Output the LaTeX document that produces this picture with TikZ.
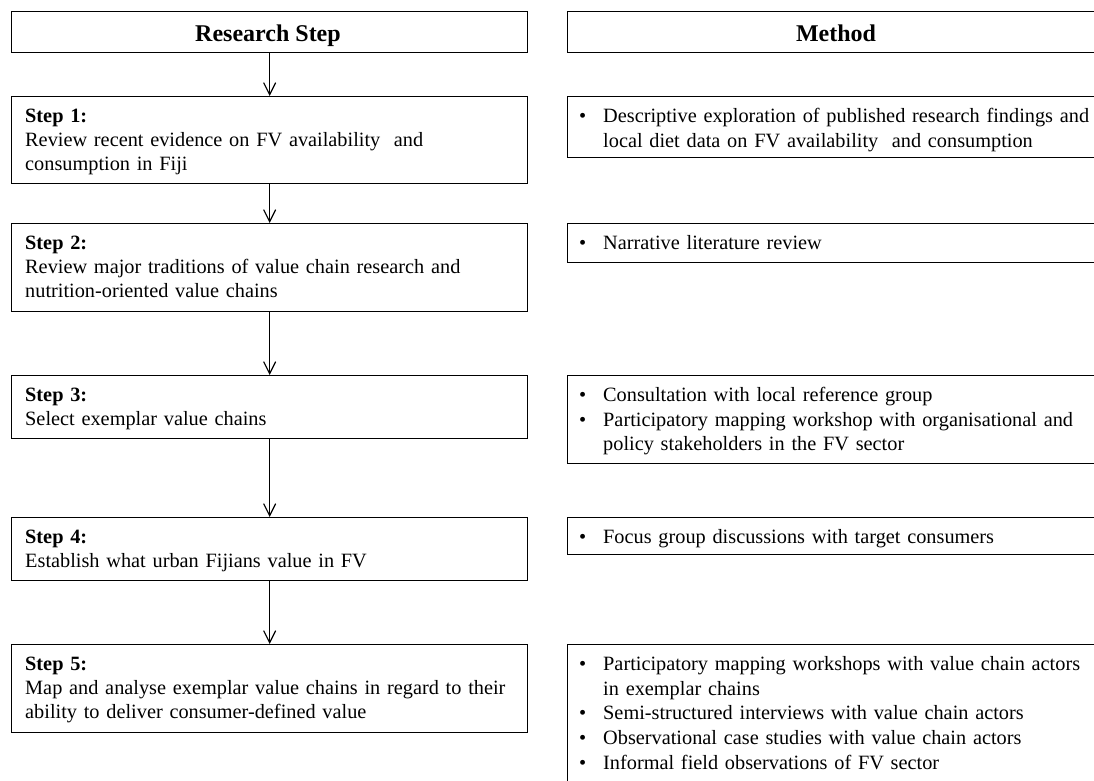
\documentclass[tikz,border=0pt]{standalone}
\usepackage{fontspec}
\setmainfont{Liberation Serif}
\usetikzlibrary{arrows.meta}

% body type: Times-like serif, single spaced
\newcommand{\bodyfont}{\fontsize{20.3}{24}\selectfont}
\newcommand{\listfont}{\fontsize{20.3}{24.7}\selectfont}
\newcommand{\headfont}{\fontsize{24}{28}\selectfont\bfseries}
% fixes the height of the first line so that baselines sit at a known offset
\newcommand{\firstline}{\rule{0pt}{14pt}}
% bulleted entry with hanging indent; \bpoint starts a further entry
\newcommand{\bitem}{\hangindent=24pt\hangafter=1\makebox[24pt][l]{\textbullet}}
\newcommand{\bpoint}{\par\noindent\bitem}

\begin{document}
\begin{tikzpicture}[x=1pt,y=-1pt]
\tikzset{
  box/.style={draw=black, line width=1.3pt, rectangle, inner sep=0pt,
              anchor=north west, minimum width=516pt},
  mbox/.style={draw=black, line width=1.3pt, rectangle, inner sep=0pt,
              anchor=north west, minimum width=560pt},
  head/.style={font=\headfont, inner sep=0pt, anchor=base},
  txt/.style={anchor=north west, inner sep=0pt, align=left,
              text width=500pt, font=\bodyfont, xshift=14pt, yshift=-12pt},
  mtxt/.style={anchor=north west, inner sep=0pt,
              text width=520pt, font=\listfont, xshift=12pt, yshift=-12pt},
  link/.style={-{Straight Barb[length=12pt,width=12pt]}, line width=1.2pt}
}
\useasboundingbox (0,0) rectangle (1094,780);
\clip (0,0) rectangle (1094,780);

% column headers
\node[box, minimum height=41pt] (rs) at (11,11) {};
\node[head] (rslabel) at (268,41) {Research Step};
\node[mbox, minimum height=41pt] (mh) at (567,11) {};
\node[head] (mhlabel) at (836,41) {Method};

% research steps
\node[box, minimum height=87pt] (s1) at (11,96) {};
\node[txt] (s1t) at (s1.north west) {\firstline\textbf{Step 1:}\\
  Review recent evidence on FV availability\ \ and\\
  consumption in Fiji};

\node[box, minimum height=88pt] (s2) at (11,223) {};
\node[txt] (s2t) at (s2.north west) {\firstline\textbf{Step 2:}\\
  Review major traditions of value chain research and\\
  nutrition-oriented value chains};

\node[box, minimum height=63pt] (s3) at (11,375) {};
\node[txt] (s3t) at (s3.north west) {\firstline\textbf{Step 3:}\\
  Select exemplar value chains};

\node[box, minimum height=63pt] (s4) at (11,517) {};
\node[txt] (s4t) at (s4.north west) {\firstline\textbf{Step 4:}\\
  Establish what urban Fijians value in FV};

\node[box, minimum height=88pt] (s5) at (11,644) {};
\node[txt] (s5t) at (s5.north west) {\firstline\textbf{Step 5:}\\
  Map and analyse exemplar value chains in regard to their\\
  ability to deliver consumer-defined value};

% methods
\node[mbox, minimum height=61pt] (m1) at (567,96) {};
\node[mtxt] (m1t) at (m1.north west) {\raggedright
  \bitem\firstline Descriptive exploration of published research findings and\newline
  local diet data on FV availability\ \ and consumption\par};

\node[mbox, minimum height=39pt] (m2) at (567,223) {};
\node[mtxt] (m2t) at (m2.north west) {\raggedright
  \bitem\firstline Narrative literature review\par};

\node[mbox, minimum height=88pt] (m3) at (567,375) {};
\node[mtxt] (m3t) at (m3.north west) {\raggedright
  \bitem\firstline Consultation with local reference group
  \bpoint Participatory mapping workshop with organisational and\newline
  policy stakeholders in the FV sector\par};

\node[mbox, minimum height=37pt] (m4) at (567,517) {};
\node[mtxt] (m4t) at (m4.north west) {\raggedright
  \bitem\firstline Focus group discussions with target consumers\par};

\node[mbox, minimum height=160pt] (m5) at (567,644) {};
\node[mtxt] (m5t) at (m5.north west) {\raggedright
  \bitem\firstline Participatory mapping workshops with value chain actors\newline
  in exemplar chains
  \bpoint Semi-structured interviews with value chain actors
  \bpoint Observational case studies with value chain actors
  \bpoint Informal field observations of FV sector\par};

% flow between the steps
\draw[link] (rs.south) -- (s1.north);
\draw[link] (s1.south) -- (s2.north);
\draw[link] (s2.south) -- (s3.north);
\draw[link] (s3.south) -- (s4.north);
\draw[link] (s4.south) -- (s5.north);
\end{tikzpicture}
\end{document}
